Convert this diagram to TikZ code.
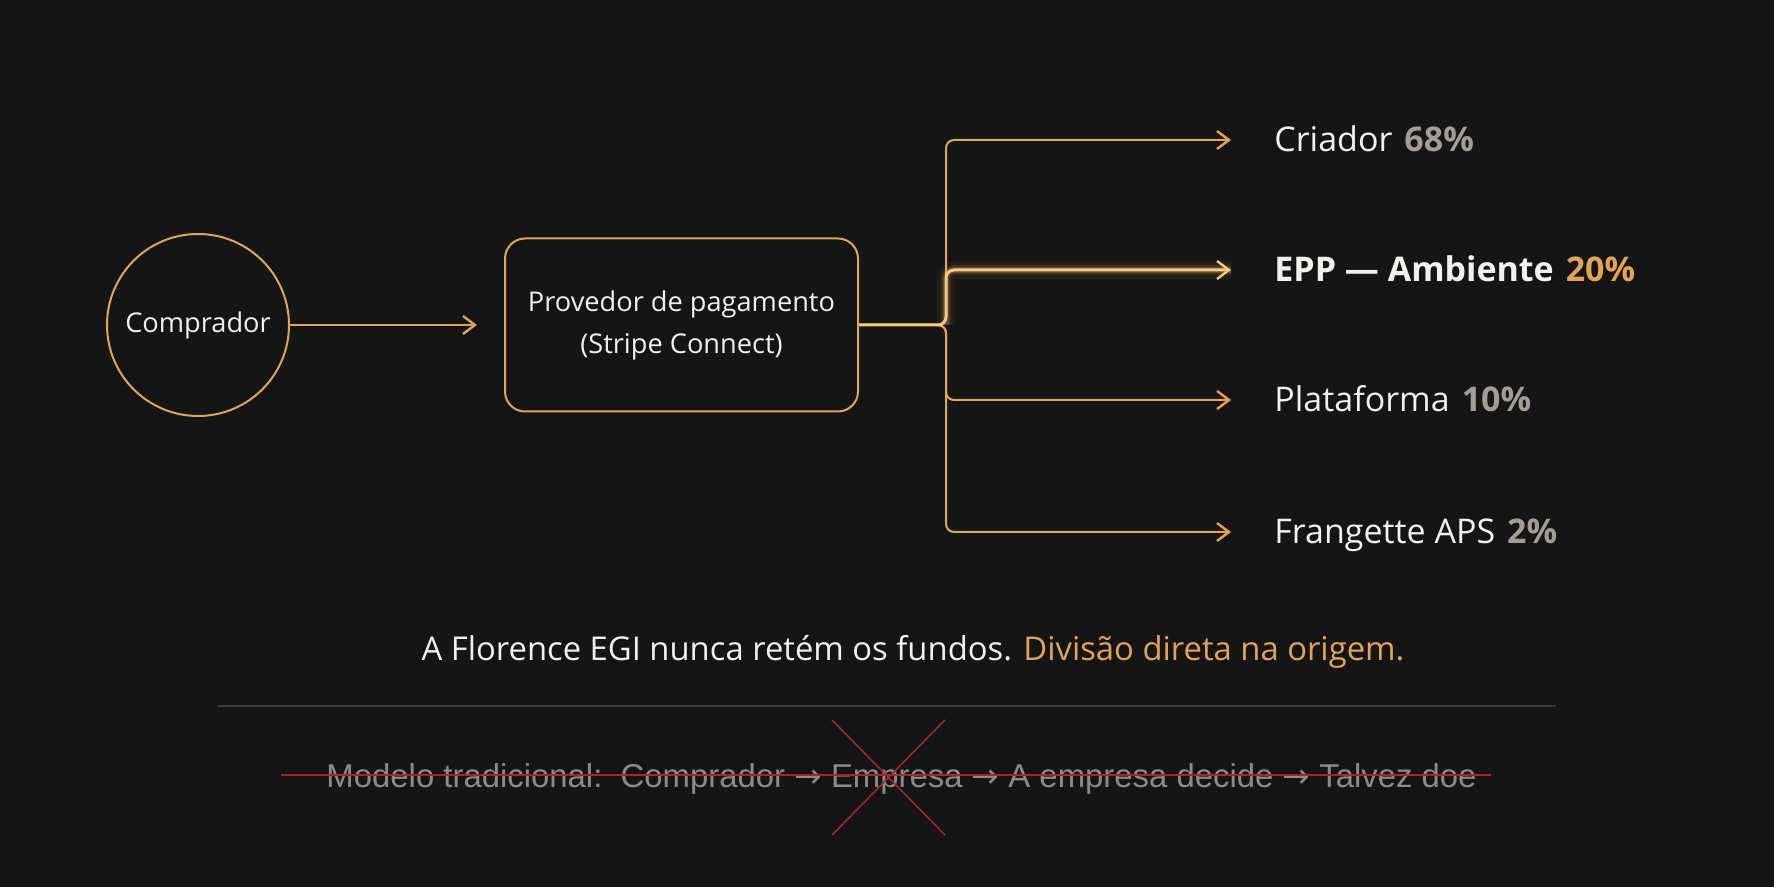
\documentclass[tikz,border=0pt]{standalone}
\usepackage{fontspec}
\usepackage{graphicx}
\setmainfont{Open Sans}
\newfontfamily\narrowfont{Liberation Sans}
\newfontfamily\arrowfont{DejaVu Sans}
\usetikzlibrary{arrows.meta}
\definecolor{bg}{HTML}{151515}
\definecolor{gold}{HTML}{E2A555}
\definecolor{goldhi}{HTML}{F6CA80}
\definecolor{txt}{HTML}{F2F0EC}
\definecolor{pct}{HTML}{A39D95}
\definecolor{strk}{HTML}{8E8A86}
\definecolor{redx}{HTML}{9E2A2A}
\definecolor{sepc}{HTML}{3A3A3A}
\tikzset{
  conn/.style={draw=gold, line width=1pt, rounded corners=4pt,
    -{Straight Barb[length=6pt,width=9pt,line width=1.2pt]}},
  nodebox/.style={draw=gold, line width=1pt, text=txt, align=center,
    font=\fontsize{13.6}{21}\selectfont},
  lbl/.style={anchor=base west, inner sep=0pt, text=txt,
    font=\fontsize{17}{20}\selectfont},
  pctxt/.style={text=pct}
}
\begin{document}
\begin{tikzpicture}[x=0.5pt,y=-0.5pt]
\fill[bg] (0,0) rectangle (1774,887);
\useasboundingbox (0,0) rectangle (1774,887);

% nodes
\node[nodebox, circle, minimum size=91pt, inner sep=0pt] (buyer) at (198,325) {Comprador};
\node[nodebox, rectangle, rounded corners=10pt, minimum width=176.5pt, minimum height=86.5pt] (prov) at (681.5,325) {Provedor de pagamento\\(Stripe Connect)};

\coordinate (J) at (946,325);
\coordinate (e1) at (1231,140);
\coordinate (e2) at (1231,270);
\coordinate (e3) at (1231,400);
\coordinate (e4) at (1231,532);

% labels
\node[lbl] (l1) at (1274,152) {Criador\hspace{6pt}{\bfseries\color{pct}68\%}};
\node[lbl] (l2) at (1274,282) {\bfseries EPP — Ambiente\hspace{6pt}{\color{gold}20\%}};
\node[lbl] (l3) at (1274,412) {Plataforma\hspace{6pt}{\bfseries\color{pct}10\%}};
\node[lbl] (l4) at (1274,544) {Frangette APS\hspace{6pt}{\bfseries\color{pct}2\%}};

% connectors
\draw[conn] (buyer) -- (prov.west -| 477,0);
\draw[conn] (prov.east) -- (J) |- (e1);
\draw[conn] (prov.east) -- (J) |- (e3);
\draw[conn] (prov.east) -- (J) |- (e4);
% glowing EPP branch
\draw[gold, line width=9pt, opacity=0.06, rounded corners=4pt] (J) |- (e2);
\draw[gold, line width=5pt, opacity=0.12, rounded corners=4pt] (J) |- (e2);
\draw[gold, line width=3pt, opacity=0.25, rounded corners=4pt] (J) |- (e2);
\draw[conn, draw=goldhi, line width=1.5pt] (prov.east) -- (J) |- (e2);

% bottom statement
\node[anchor=base, inner sep=0pt, text=txt, font=\fontsize{16.4}{20}\selectfont] (stmt) at (913,661)
  {A Florence EGI nunca retém os fundos. {\color{gold}Divisão direta na origem.}};

% separator
\coordinate (s1) at (218,706);
\coordinate (s2) at (1556,706);
\draw[sepc, line width=1pt] (s1) -- (s2);

% traditional model, struck through
\node[anchor=base, inner sep=0pt, text=strk] (trad) at (901.5,787)
  {\resizebox{575pt}{\height}{\narrowfont\fontsize{16.5}{19}\selectfont Modelo tradicional:\ \ Comprador {\arrowfont →} Empresa {\arrowfont →} A empresa decide {\arrowfont →} Talvez doe}};
\coordinate (r1) at (281,775);
\coordinate (r2) at (1491,775);
\draw[redx, line width=1pt] (r1) -- (r2);
\coordinate (x1) at (832,720);
\coordinate (x2) at (945,835);
\coordinate (x3) at (945,720);
\coordinate (x4) at (832,835);
\draw[redx, line width=0.8pt] (x1) -- (x2);
\draw[redx, line width=0.8pt] (x3) -- (x4);
\end{tikzpicture}
\end{document}
